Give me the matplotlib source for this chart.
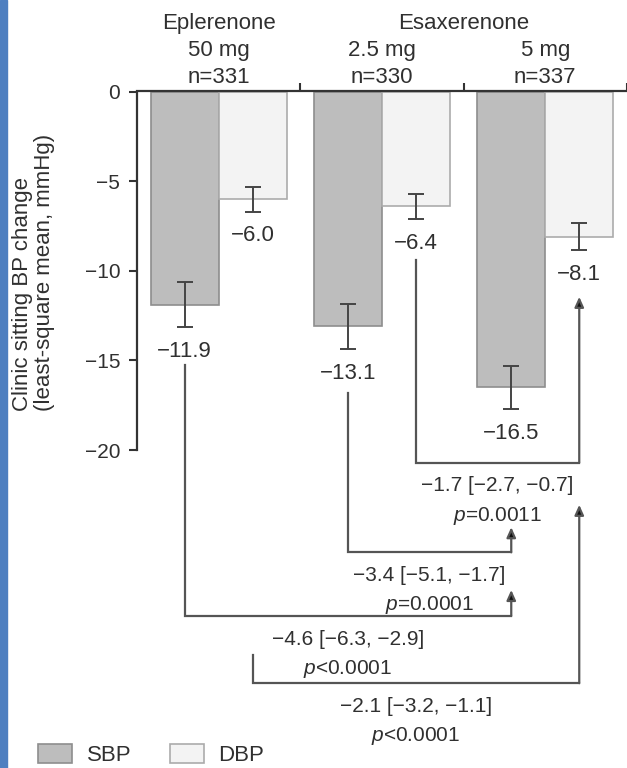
import matplotlib
matplotlib.use("Agg")
import matplotlib.pyplot as plt
from matplotlib.patches import Rectangle
import numpy as np

plt.rcParams['font.family'] = ['Liberation Sans', 'DejaVu Sans']
plt.rcParams['mathtext.fontset'] = 'custom'
plt.rcParams['mathtext.it'] = 'Liberation Sans:italic'
plt.rcParams['mathtext.rm'] = 'Liberation Sans'

# ---- Data ----
drugs = ['Eplerenone', 'Esaxerenone']
drug_groups = [[0], [1, 2]]
doses = ['50 mg', '2.5 mg', '5 mg']
n_pat = [331, 330, 337]
sbp = [-11.9, -13.1, -16.5]
dbp = [-6.0, -6.4, -8.1]
sbp_err = [1.25, 1.25, 1.2]
dbp_err = [0.7, 0.7, 0.75]

# pairwise comparisons: (series, group) -> (series, group)
comp_from = [('DBP', 1), ('SBP', 1), ('SBP', 0), ('DBP', 0)]
comp_to = [('DBP', 2), ('SBP', 2), ('SBP', 2), ('DBP', 2)]
comp_diff = [-1.7, -3.4, -4.6, -2.1]
comp_lo = [-2.7, -5.1, -6.3, -3.2]
comp_hi = [-0.7, -1.7, -2.9, -1.1]
comp_p = ['$p$=0.0011', '$p$=0.0001', '$p$<0.0001', '$p$<0.0001']

# bracket layout (y in mmHg units)
br_start = [-9.4, -16.8, -15.25, -31.4]
br_level = [-20.7, -25.7, -29.25, -33.0]
br_tip = [-11.45, -24.3, -27.8, -23.05]

def fmt(v):
    return f"{v:.1f}".replace('-', '\u2212')

# ---- Figure ----
W, H = 627, 768
fig = plt.figure(figsize=(W / 100, H / 100), dpi=100)
ax = fig.add_axes([0, 0, 1, 1])
ax.patch.set_visible(False)

# pixel mapping of the original layout
x0_px, gw_px = 137, 163.3
y0_px, unit_px = 91.5, 17.93
ax.set_xlim(-0.5 - x0_px / gw_px, -0.5 + (W - x0_px) / gw_px)
ax.set_ylim(-(H - y0_px) / unit_px, y0_px / unit_px)

bw = 68 / gw_px
g = np.arange(len(doses))
x_sbp = g - bw / 2
x_dbp = g + bw / 2
xpos = {'SBP': x_sbp, 'DBP': x_dbp}
vals = {'SBP': sbp, 'DBP': dbp}
errs = {'SBP': sbp_err, 'DBP': dbp_err}

txt = '#303030'
b1 = ax.bar(x_sbp, sbp, width=bw, color='#bdbdbd', edgecolor='#8e8e8e',
            linewidth=1.2, label='SBP', zorder=2)
b2 = ax.bar(x_dbp, dbp, width=bw, color='#f3f3f3', edgecolor='#ababab',
            linewidth=1.2, label='DBP', zorder=2)
for s in ('SBP', 'DBP'):
    ax.errorbar(xpos[s], vals[s], yerr=errs[s], fmt='none', ecolor='#444444',
                elinewidth=1.4, capsize=6, capthick=1.4, zorder=3)
    for xi, v, e in zip(xpos[s], vals[s], errs[s]):
        ax.text(xi, v - e - 1.35, fmt(v), ha='center', va='center',
                fontsize=16, color=txt)

# ---- Axes styling ----
for side in ('bottom', 'right'):
    ax.spines[side].set_visible(False)
ax.spines['left'].set_position(('data', -0.5))
ax.spines['left'].set_bounds(-20, 0)
ax.spines['top'].set_position(('data', 0))
ax.spines['top'].set_bounds(-0.5, ax.get_xlim()[1])
for side in ('left', 'top'):
    ax.spines[side].set_color('#333333')
    ax.spines[side].set_linewidth(1.6)
ax.set_yticks([0, -5, -10, -15, -20])
ax.tick_params(axis='y', length=6, width=1.5, color='#333333', labelsize=15,
               labelcolor=txt, pad=6)
ax.xaxis.set_ticks_position('top')
ax.set_xticks(g + 0.5)
ax.tick_params(axis='x', length=6, width=1.5, color='#333333', labeltop=False,
               labelbottom=False, direction='out')

# ---- Header labels ----
def px2y(p):
    return (y0_px - p) / unit_px

for name, grp in zip(drugs, drug_groups):
    ax.text(np.mean(grp), px2y(29), name, ha='center', va='baseline',
            fontsize=16, color=txt)
for i in g:
    ax.text(i, px2y(56), doses[i], ha='center', va='baseline', fontsize=16, color=txt)
    ax.text(i, px2y(83), f"n={n_pat[i]}", ha='center', va='baseline',
            fontsize=16, color=txt)

# ---- Y label ----
fig.text(23 / W, 1 - 411 / H, 'Clinic sitting BP change', rotation=90,
         ha='center', va='bottom', fontsize=16, color=txt)
fig.text(45 / W, 1 - 411 / H, '(least-square mean, mmHg)', rotation=90,
         ha='center', va='bottom', fontsize=16, color=txt)

# ---- Comparison brackets ----
lc = '#555555'
for k in range(len(comp_diff)):
    sa, ga = comp_from[k]
    sb, gb = comp_to[k]
    xa = xpos[sa][ga]
    xb = xpos[sb][gb]
    ax.plot([xa, xa, xb], [br_start[k], br_level[k], br_level[k]], color=lc,
            lw=1.6, solid_joinstyle='miter', solid_capstyle='projecting', zorder=2)
    ax.annotate('', xy=(xb, br_tip[k]), xytext=(xb, br_level[k]),
                arrowprops=dict(arrowstyle='-|>,head_length=0.6,head_width=0.27',
                                ec=lc, fc='#111111', lw=1.6, shrinkA=0, shrinkB=0))
    xm = (xa + xb) / 2
    ax.text(xm, br_level[k] - 1.3,
            f"{fmt(comp_diff[k])} [{fmt(comp_lo[k])}, {fmt(comp_hi[k])}]",
            ha='center', va='center', fontsize=15, color=txt)
    ax.text(xm, br_level[k] - 2.95, comp_p[k], ha='center', va='center',
            fontsize=15, color=txt)

# ---- Legend ----
fig.legend(handles=[b1, b2], labels=['SBP', 'DBP'], loc='center left',
           bbox_to_anchor=(38 / W, 1 - 755 / H), ncol=2, frameon=False,
           fontsize=16, handlelength=1.53, handleheight=0.9,
           handletextpad=0.68, columnspacing=1.7, borderpad=0,
           borderaxespad=0, labelcolor=txt)

# blue left border
fig.patches.append(Rectangle((0, 0), 7 / W, 1, transform=fig.transFigure,
                             color='#4e7fc0', zorder=5))

fig.savefig('out.png', dpi=100, facecolor='white')
